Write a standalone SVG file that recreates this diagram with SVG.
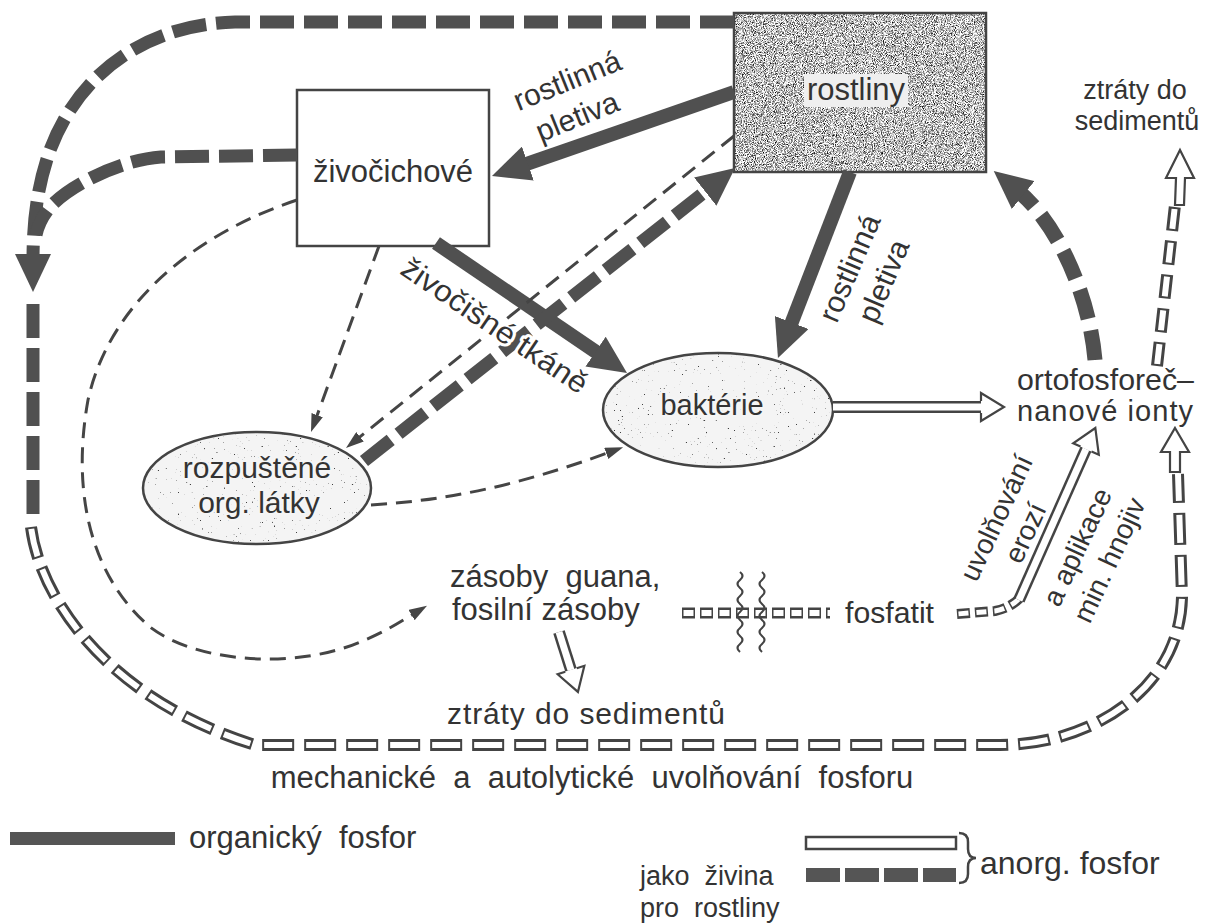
<svg xmlns="http://www.w3.org/2000/svg" width="1209" height="924" viewBox="0 0 1209 924">
<defs>
<style>
.t{font-family:"Liberation Sans",Arial,sans-serif;font-size:28px;fill:#333}
.b{font-size:30px}
.halo{paint-order:stroke;stroke:#f5f5f5;stroke-width:5px;stroke-linejoin:round}
.whalo{paint-order:stroke;stroke:#fff;stroke-width:6px;stroke-linejoin:round}
.node{stroke:#444;stroke-width:2.5}
.sol{fill:none;stroke:#505050;stroke-width:14}
.tdash{fill:none;stroke:#505050;stroke-width:13;stroke-dasharray:34 10}
.thin{fill:none;stroke:#454545;stroke-width:3;stroke-dasharray:16 9}
.hout{fill:none;stroke:#444;stroke-width:12}
.hin{fill:none;stroke:#fff;stroke-width:7}
.hdo{fill:none;stroke:#444;stroke-width:12;stroke-dasharray:32 10}
.hdi{fill:none;stroke:#fff;stroke-width:6;stroke-dasharray:28 14;stroke-dashoffset:-2}
.hso{fill:none;stroke:#444;stroke-width:12;stroke-dasharray:24 10}
.hsi{fill:none;stroke:#fff;stroke-width:6;stroke-dasharray:20 14;stroke-dashoffset:-2}
.hqo{fill:none;stroke:#444;stroke-width:11;stroke-dasharray:13 5}
.hqi{fill:none;stroke:#fff;stroke-width:6;stroke-dasharray:10 8;stroke-dashoffset:-1.5}
.hhead{fill:#fff;stroke:#444;stroke-width:2.2}
.wave{fill:none;stroke:#444;stroke-width:2.2}
</style>
<filter id="dark" x="0" y="0" width="1" height="1" color-interpolation-filters="sRGB">
<feTurbulence type="fractalNoise" baseFrequency="1.1" numOctaves="2" seed="3" result="n"/>
<feColorMatrix in="n" type="matrix" values="2.4 0 0 0 -0.45  2.4 0 0 0 -0.45  2.4 0 0 0 -0.45  0 0 0 0 1"/>
<feComposite in2="SourceAlpha" operator="in"/>
</filter>
<filter id="dots" x="0" y="0" width="1" height="1" color-interpolation-filters="sRGB">
<feFlood flood-color="#f4f4f4" result="bg"/>
<feTurbulence type="fractalNoise" baseFrequency="0.5" numOctaves="1" seed="7" result="n"/>
<feColorMatrix in="n" type="matrix" values="0 0 0 0 0.25  0 0 0 0 0.25  0 0 0 0 0.25  -16 0 0 0 4.5" result="d"/>
<feComposite in="d" in2="bg" operator="over" result="c"/>
<feComposite in="c" in2="SourceAlpha" operator="in"/>
</filter>
<marker id="ah" markerUnits="userSpaceOnUse" viewBox="0 0 38 36" markerWidth="38" markerHeight="36" refX="8" refY="18" orient="auto"><path d="M0,0 L38,18 L0,36 Z" fill="#505050"/></marker>
<marker id="as" markerUnits="userSpaceOnUse" viewBox="0 0 18 12" markerWidth="18" markerHeight="12" refX="4" refY="6" orient="auto"><path d="M0,0 L18,6 L0,12 Z" fill="#454545"/></marker>
<marker id="ahol" markerUnits="userSpaceOnUse" viewBox="-2 -2 28 34" markerWidth="28" markerHeight="34" refX="0" refY="15" orient="auto"><path d="M0,9 L0,1 L23,15 L0,29 L0,21" class="hhead"/></marker>
</defs>
<rect width="1209" height="924" fill="#fff"/>

<g id="rostliny">
<rect x="734" y="13" width="252" height="159" fill="#888" filter="url(#dark)"/>
<rect x="734" y="13" width="252" height="159" fill="none" class="node"/>
<rect x="804" y="74" width="104" height="33" fill="#efefef"/>
<text class="t" style="font-size:31px" x="856" y="100" text-anchor="middle">rostliny</text>
</g>

<g id="zivocichove">
<rect x="297" y="90" width="192" height="156" fill="#fff" class="node"/>
<text class="t" style="font-size:31px" x="393" y="182" text-anchor="middle">živočichové</text>
</g>

<g id="bakterie">
<ellipse cx="718" cy="410" rx="115" ry="57" fill="#f3f3f3" filter="url(#dots)"/>
<ellipse cx="718" cy="410" rx="115" ry="57" fill="none" class="node"/>
<text class="t halo" style="font-size:29px" x="712" y="415" text-anchor="middle">baktérie</text>
</g>

<g id="rozpustene">
<ellipse cx="257" cy="488" rx="114" ry="56" fill="#f3f3f3" filter="url(#dots)"/>
<ellipse cx="257" cy="488" rx="114" ry="56" fill="none" class="node"/>
<text class="t b halo" x="257" y="478" text-anchor="middle">rozpuštěné</text>
<text class="t b halo" x="259" y="513" text-anchor="middle">org. látky</text>
</g>

<g id="ortofosforecnanove">
<text class="t" style="font-size:29px" x="1017" y="390" textLength="177" lengthAdjust="spacingAndGlyphs">ortofosforeč–</text>
<text class="t" style="font-size:29px" x="1017" y="421" textLength="176" lengthAdjust="spacing">nanové ionty</text>
</g>

<g id="ztraty-top">
<text class="t" style="font-size:27px" x="1135" y="99" text-anchor="middle">ztráty do</text>
<text class="t" style="font-size:27px" x="1137" y="130" text-anchor="middle">sedimentů</text>
</g>

<g id="zasoby">
<text class="t" style="font-size:31px" x="450" y="587">zásoby&#160; guana,</text>
<text class="t" style="font-size:31px" x="452" y="620">fosilní zásoby</text>
</g>

<g id="fosfatit">
<text class="t b" x="845" y="623" textLength="89" lengthAdjust="spacingAndGlyphs">fosfatit</text>
</g>

<g id="ztraty-bottom">
<text class="t b" x="586" y="724" text-anchor="middle" textLength="278" lengthAdjust="spacing">ztráty do sedimentů</text>
</g>

<g id="connectors">
<path class="sol" d="M734 92 L520.3 166.2" marker-end="url(#ah)"/>
<path class="sol" d="M850 172 L788.8 330" marker-end="url(#ah)"/>
<path class="sol" d="M436 243 L602.2 356.1" marker-end="url(#ah)"/>
<path class="thin" d="M734 136 L356.9 439.3" marker-end="url(#as)"/>
<path class="thin" d="M379 246 L315.8 418.9" marker-end="url(#as)"/>
<path class="thin" d="M371 505 C450 500 520 485 610 452" marker-end="url(#as)"/>
<path class="thin" d="M297 200 C200 232 110 300 88 400 C70 500 95 580 150 627 C200 665 300 668 360 642 C385 632 400 622 415 613" marker-end="url(#as)"/>
<path class="tdash" d="M364 461 L711.5 186.6" marker-end="url(#ah)"/>
<path class="tdash" style="stroke-width:15;stroke-dasharray:30 12" d="M1095 360 C1090 300 1060 225 1017 190" marker-end="url(#ah)"/>
<path class="tdash" d="M734 22 L235 22 C150 24 80 70 50 150 C36 190 33 225 33 262" marker-end="url(#ah)"/>
<path class="tdash" d="M297 155 L161 157 C120 160 70 185 50 207 C42 217 38 225 36 235"/>
<path class="tdash" d="M33 304 L33 517"/>
<path class="hdo" d="M31 527 C40 600 110 700 255 745 L1000 745 C1090 745 1180 690 1182 597 L1178 474"/>
<path class="hdi" d="M31 527 C40 600 110 700 255 745 L1000 745 C1090 745 1180 690 1182 597 L1178 474"/>
<polygon class="hhead" points="1175,428 1189,452 1180,452 1180,472 1170,472 1170,452 1161,452"/>
<path class="hso" d="M1157 366 L1175 205"/>
<path class="hsi" d="M1157 366 L1175 205"/>
<polygon class="hhead" points="1180,150 1194,178 1185,178 1184,205 1175,205 1176,178 1166,178"/>
<path class="hout" d="M833 407 L981 407"/>
<path class="hin" d="M833 407 L981 407" marker-end="url(#ahol)"/>
<path class="hout" d="M559 632 L571 670"/>
<path class="hin" d="M559 632 L571 670" marker-end="url(#ahol)"/>
<path class="hqo" d="M682 613 L830 613"/>
<path class="hqi" d="M682 613 L830 613"/>
<path class="wave" d="M740 572 q5 4 0 8 t0 8 t0 8 t0 8 t0 8 t0 8 t0 8 t0 8 t0 8 t0 8"/>
<path class="wave" d="M762 572 q5 4 0 8 t0 8 t0 8 t0 8 t0 8 t0 8 t0 8 t0 8 t0 8 t0 8"/>
<path class="hqo" style="stroke-width:10" d="M957 614 L995 611 Q1010 608 1020 598"/>
<path class="hqi" style="stroke-width:5" d="M957 614 L995 611 Q1010 608 1020 598"/>
<path class="hout" d="M1019 600 L1086 449"/>
<path class="hin" d="M1019 600 L1086 449" marker-end="url(#ahol)"/>
</g>

<g id="labels">
<text class="t b" transform="translate(571 90) rotate(-22)" text-anchor="middle">rostlinná</text>
<text class="t b" transform="translate(581 126) rotate(-22)" text-anchor="middle">pletiva</text>
<text class="t b" transform="translate(859 272) rotate(-67)" text-anchor="middle">rostlinná</text>
<text class="t b" transform="translate(893 285) rotate(-67)" text-anchor="middle">pletiva</text>
<text class="t b whalo" transform="translate(489 334) rotate(34)" text-anchor="middle" textLength="218" lengthAdjust="spacingAndGlyphs">živočišné tkáně</text>
<text class="t" transform="translate(1005 522) rotate(-65)" text-anchor="middle">uvolňování</text>
<text class="t" transform="translate(1034 537) rotate(-65)" text-anchor="middle">erozí</text>
<text class="t" transform="translate(1086 551) rotate(-65)" text-anchor="middle">a aplikace</text>
<text class="t" transform="translate(1118 564) rotate(-65)" text-anchor="middle">min. hnojiv</text>
<text class="t" style="font-size:31px" x="592" y="788" text-anchor="middle">mechanické&#160; a&#160; autolytické&#160; uvolňování&#160; fosforu</text>
</g>

<g id="legend">
<rect x="10" y="832" width="165" height="13" fill="#555"/>
<text class="t" style="font-size:31px" x="189" y="848">organický&#160; fosfor</text>
<rect x="806" y="837" width="150" height="12" fill="#fff" stroke="#444" stroke-width="2.5"/>
<rect x="806" y="868" width="34" height="14" fill="#555"/>
<rect x="845" y="868" width="34" height="14" fill="#555"/>
<rect x="884" y="868" width="34" height="14" fill="#555"/>
<rect x="923" y="868" width="33" height="14" fill="#555"/>
<path class="wave" style="stroke-width:2.5" d="M959 833 q9 0 9 9 v7 q0 9 8 9 q-8 0 -8 9 v7 q0 9 -9 9"/>
<text class="t" style="font-size:32px" x="980" y="874">anorg. fosfor</text>
<text class="t" style="font-size:27px" x="640" y="885">jako&#160; živina</text>
<text class="t" style="font-size:27px" x="640" y="917">pro&#160; rostliny</text>
</g>
</svg>
